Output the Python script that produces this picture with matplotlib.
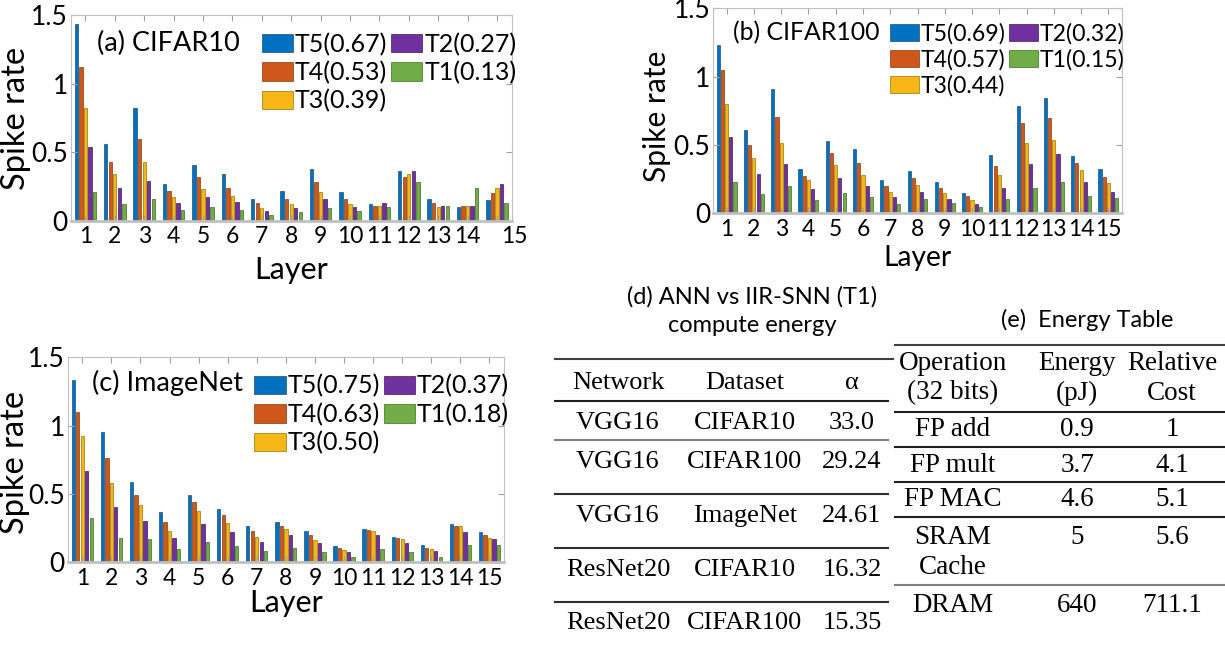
import matplotlib
matplotlib.use("Agg")
import matplotlib.pyplot as plt
import matplotlib.transforms as mtransforms
from matplotlib.lines import Line2D
import numpy as np

plt.rcParams['font.family'] = ['Lato', 'DejaVu Sans']

W, H = 1225, 645

layers = np.arange(1, 16)
steps = ['T5', 'T4', 'T3', 'T2', 'T1']
colors = ['#0070c0', '#d0571a', '#f5b616', '#7030a0', '#70ad47']
edges = ['#1f4e79', '#843c0c', '#9c7500', '#3f1a5c', '#3d6b22']

# spike rates per layer, (a) CIFAR10
cifar10 = {
    'T5': [1.44, 0.56, 0.82, 0.27, 0.41, 0.34, 0.16, 0.22, 0.38, 0.21, 0.12, 0.36, 0.16, 0.10, 0.15],
    'T4': [1.12, 0.43, 0.60, 0.22, 0.32, 0.24, 0.13, 0.16, 0.28, 0.16, 0.11, 0.32, 0.13, 0.11, 0.20],
    'T3': [0.82, 0.34, 0.43, 0.17, 0.23, 0.18, 0.09, 0.12, 0.21, 0.12, 0.11, 0.34, 0.10, 0.11, 0.24],
    'T2': [0.54, 0.24, 0.29, 0.13, 0.17, 0.14, 0.07, 0.09, 0.16, 0.10, 0.13, 0.36, 0.11, 0.11, 0.27],
    'T1': [0.21, 0.12, 0.16, 0.08, 0.10, 0.08, 0.04, 0.06, 0.09, 0.07, 0.10, 0.28, 0.11, 0.24, 0.13],
}
cifar10_avg = ['0.67', '0.53', '0.39', '0.27', '0.13']

# (b) CIFAR100
cifar100 = {
    'T5': [1.23, 0.61, 0.91, 0.325, 0.525, 0.47, 0.24, 0.305, 0.227, 0.146, 0.424, 0.785, 0.846, 0.415, 0.324],
    'T4': [1.05, 0.50, 0.70, 0.27, 0.44, 0.37, 0.195, 0.256, 0.185, 0.124, 0.346, 0.66, 0.695, 0.366, 0.266],
    'T3': [0.80, 0.40, 0.51, 0.24, 0.35, 0.275, 0.155, 0.205, 0.146, 0.095, 0.275, 0.51, 0.534, 0.315, 0.217],
    'T2': [0.56, 0.285, 0.36, 0.175, 0.26, 0.195, 0.115, 0.156, 0.105, 0.066, 0.183, 0.356, 0.434, 0.224, 0.154],
    'T1': [0.23, 0.14, 0.195, 0.095, 0.145, 0.12, 0.066, 0.10, 0.076, 0.044, 0.105, 0.183, 0.227, 0.122, 0.11],
}
cifar100_avg = ['0.69', '0.57', '0.44', '0.32', '0.15']

# (c) ImageNet
imagenet = {
    'T5': [1.33, 0.95, 0.584, 0.364, 0.489, 0.391, 0.261, 0.293, 0.225, 0.115, 0.244, 0.186, 0.122, 0.281, 0.222],
    'T4': [1.10, 0.765, 0.494, 0.293, 0.437, 0.344, 0.225, 0.261, 0.195, 0.105, 0.237, 0.176, 0.105, 0.261, 0.195],
    'T3': [0.92, 0.577, 0.415, 0.23, 0.376, 0.283, 0.186, 0.244, 0.164, 0.086, 0.23, 0.166, 0.093, 0.261, 0.173],
    'T2': [0.67, 0.405, 0.303, 0.173, 0.281, 0.217, 0.144, 0.195, 0.137, 0.073, 0.195, 0.139, 0.078, 0.217, 0.166],
    'T1': [0.325, 0.173, 0.166, 0.093, 0.149, 0.117, 0.078, 0.10, 0.076, 0.039, 0.093, 0.076, 0.039, 0.122, 0.122],
}
imagenet_avg = ['0.75', '0.63', '0.50', '0.37', '0.18']

# (d) table
d_head = ['Network', 'Dataset', 'α']
d_net = ['VGG16', 'VGG16', 'VGG16', 'ResNet20', 'ResNet20']
d_data = ['CIFAR10', 'CIFAR100', 'ImageNet', 'CIFAR10', 'CIFAR100']
d_alpha = ['33.0', '29.24', '24.61', '16.32', '15.35']

# (e) table
e_head1 = ['Operation', 'Energy', 'Relative']
e_head2 = ['(32 bits)', '(pJ)', 'Cost']
e_op = ['FP add', 'FP mult', 'FP MAC', 'SRAM\nCache', 'DRAM']
e_energy = ['0.9', '3.7', '4.6', '5', '640']
e_cost = ['1', '4.1', '5.1', '5.6', '711.1']

fig = plt.figure(figsize=(W / 100, H / 100), dpi=100)


def px_axes(l, t, r, b):
    return fig.add_axes([l / W, 1 - b / H, (r - l) / W, (b - t) / H])


def bar_panel(ax, data, avg, title, title_xy, leg_xy, xlab_y, ylab_xy,
              k=1.0, shift15=0):
    n = len(steps)
    gap = 0.154
    for i, s in enumerate(steps):
        off = (i - (n - 1) / 2) * gap
        ax.bar(layers + off, data[s], width=0.115, color=colors[i],
               edgecolor=edges[i], linewidth=0.5,
               label='%s(%s)' % (s, avg[i]))
    ax.set_xlim(0.5, 15.5)
    ax.set_ylim(0, 1.5)
    ax.set_xticks(layers)
    ax.set_yticks([0, 0.5, 1, 1.5])
    ax.set_yticklabels(['0', '0.5', '1', '1.5'])
    for sp in ax.spines.values():
        sp.set_color('#c0c0c0')
    ax.spines['bottom'].set_linewidth(2)
    ax.tick_params(direction='in', top=True, right=True, length=4,
                   color='#a0a0a0', pad=2)
    ax.tick_params(axis='x', labelsize=16.5, pad=4)
    ax.tick_params(axis='y', labelsize=19)
    ax.set_xlabel('Layer', fontsize=22 * k, va='center')
    ax.xaxis.set_label_coords(0.5, xlab_y)
    ax.set_ylabel('Spike rate', fontsize=23.5 * k, va='center')
    ax.yaxis.set_label_coords(ylab_xy[0], ylab_xy[1])
    ax.text(title_xy[0], title_xy[1], title, transform=ax.transAxes,
            fontsize=19.5 * k, va='center', ha='left')
    ax.legend(loc='upper left', bbox_to_anchor=leg_xy, ncol=2,
              frameon=False, fontsize=18 * k, handlelength=1.25, handleheight=0.75,
              handletextpad=0.08, columnspacing=0.15, labelspacing=0.2,
              borderaxespad=0, borderpad=0)
    if shift15:
        lab = ax.get_xticklabels()[-1]
        lab.set_transform(lab.get_transform() +
                          mtransforms.ScaledTranslation(shift15 / 100, 0, fig.dpi_scale_trans))


ax_a = px_axes(70.7, 15.3, 511.7, 220.7)
bar_panel(ax_a, cifar10, cifar10_avg, '(a) CIFAR10', (0.06, 0.865),
          (0.433, 0.915), -0.24, (-0.124, 0.5), shift15=17)

ax_b = px_axes(713, 8.3, 1122, 213)
bar_panel(ax_b, cifar100, cifar100_avg, '(b) CIFAR100', (0.05, 0.88),
          (0.433, 0.93), -0.22, (-0.136, 0.474), k=0.92)

ax_c = px_axes(67.7, 357.3, 504, 562)
bar_panel(ax_c, imagenet, imagenet_avg, '(c) ImageNet', (0.055, 0.875),
          (0.428, 0.916), -0.20, (-0.121, 0.486))


def ftext(x, y, s, size, family='Lato', **kw):
    fig.text(x / W, 1 - y / H, s, fontsize=size, family=family,
             ha='center', va='center', **kw)


def hline(x0, x1, y, color='black', lw=1.5):
    fig.add_artist(Line2D([x0 / W, x1 / W], [1 - y / H, 1 - y / H],
                          color=color, lw=lw, transform=fig.transFigure))


serif = ['Liberation Serif', 'DejaVu Serif']

# table (d)
ftext(752, 297, '(d) ANN vs IIR-SNN (T1)', 17)
ftext(752, 325, 'compute energy', 17)
d_cols = [618, 745, 852]
for c, s in zip(d_cols, d_head):
    ftext(c, 383, s, 19, family=serif)
d_rows = [423, 462, 516, 570, 623]
for r, a, b, c in zip(d_rows, d_net, d_data, d_alpha):
    ftext(d_cols[0], r, a, 19, family=serif)
    ftext(d_cols[1], r, b, 19, family=serif)
    ftext(d_cols[2], r, c, 19, family=serif)
hline(555, 893, 359, '#404040')
hline(555, 888, 401, '#202020')
hline(555, 888, 440, '#808080')
hline(555, 888, 494, '#303030')
hline(555, 888, 548, '#303030')
hline(555, 888, 602, '#303030')

# table (e)
ftext(1087, 320, '(e)  Energy Table', 17)
e_cols = [953, 1077, 1172]
for c, s1, s2 in zip(e_cols, e_head1, e_head2):
    ftext(c, 363, s1, 19.5, family=serif)
    ftext(c, 393, s2, 19.5, family=serif)
e_rows = [430, 465, 500, 537, 605]
for r, a, b, c in zip(e_rows, e_op, e_energy, e_cost):
    if '\n' in a:
        top, bot = a.split('\n')
        ftext(e_cols[0], r, top, 19.5, family=serif)
        ftext(e_cols[0], r + 30, bot, 19.5, family=serif)
    else:
        ftext(e_cols[0], r, a, 19.5, family=serif)
    ftext(e_cols[1], r, b, 19.5, family=serif)
    ftext(e_cols[2], r, c, 19.5, family=serif)
hline(895, 1225, 345, '#404040')
hline(895, 1225, 412, '#202020')
hline(895, 1225, 447, '#202020')
hline(895, 1225, 482, '#202020')
hline(895, 1225, 517, '#202020')
hline(895, 1225, 585, '#808080')

fig.savefig('out.png', dpi=100)
